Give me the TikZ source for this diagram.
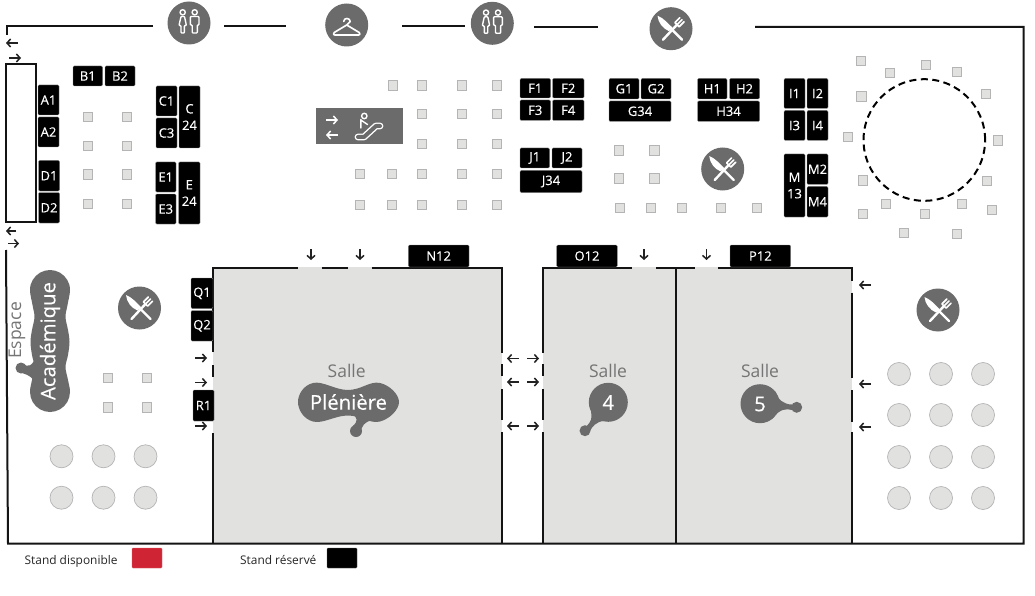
\documentclass[tikz,border=0pt]{standalone}
\usepackage{fontspec}
\setmainfont{Open Sans}
\newfontfamily\heavyish[FakeBold=0.25]{Open Sans}
\usetikzlibrary{arrows.meta}
\definecolor{iconcol}{HTML}{6B6B6B}
\definecolor{roomcol}{HTML}{E1E1E0}
\definecolor{seatedge}{HTML}{B4B4B4}
\definecolor{greytext}{HTML}{757575}
\definecolor{arrowcol}{HTML}{222222}
\definecolor{redstand}{HTML}{CF2433}
\tikzset{
  wall/.style={line width=2pt,draw=black!92,line cap=butt,line join=miter},
  standbox/.style={fill=black,draw=black!45,line width=.3pt,rounded corners=1.2pt,text=white,inner sep=0pt,align=center,
    font=\heavyish\fontsize{13}{16.5}\selectfont},
  seat/.style={rectangle,fill=roomcol,draw=seatedge,line width=.7pt,minimum size=9.6pt,inner sep=0pt},
  seatlarge/.style={circle,fill=roomcol,draw=seatedge,line width=.7pt,minimum size=23pt,inner sep=0pt},
  iconcircle/.style={circle,fill=iconcol,minimum size=43pt,inner sep=0pt},
  doorarrow/.style={draw=arrowcol,line width=1.5pt,-{Straight Barb[length=3.6pt,width=8pt,line width=1.5pt]}},
  whitearrow/.style={draw=white,line width=1.5pt,-{Straight Barb[length=3.6pt,width=8pt,line width=1.5pt]}},
  iconline/.style={draw=white,line width=1.4pt,line join=round,line cap=round},
  salletext/.style={text=greytext,inner sep=0pt,font=\fontsize{17.5}{20}\selectfont},
  blobtext/.style={text=white,inner sep=0pt,font=\heavyish\fontsize{20.3}{24}\selectfont},
  legendtext/.style={inner sep=0pt,anchor=base west,text=black!85,font=\fontsize{11.9}{14}\selectfont},
  foodicon/.pic={
    \fill[white] (-13.5,-13) .. controls (-7,-10.5) and (-3,-5) .. (1.5,-1) -- (-2,2.5) .. controls (-8,0) and (-13,-6) .. cycle;
    \draw[white,line width=2.4pt,line cap=round] (0,0) -- (11,11);
    \draw[white,line width=2.4pt,line cap=round] (-8,11) -- (6,-4);
    \draw[white,line width=1.7pt,line cap=round] (3.9,-6.1) -- (8.1,-1.9)
      (3.9,-6.1) -- (8.85,-11.05) (6,-4) -- (10.95,-8.95) (8.1,-1.9) -- (13.05,-6.85);
  },
  toileticon/.pic={
    \draw[iconline] (-6.3,-10.7) circle (2.6) (5.7,-10.7) circle (2.6);
    \draw[iconline,rounded corners=.8pt] (-8,-6.5) -- (-4.5,-6.5) -- (-2.6,2.5) -- (-4.6,2.5) -- (-4.6,10) -- (-8,10) -- (-8,2.5) -- (-10,2.5) -- cycle;
    \draw[iconline,rounded corners=.8pt] (1.3,-6.5) -- (10,-6.5) -- (10,2) -- (8.3,2) -- (8.3,10) -- (3.2,10) -- (3.2,2) -- (1.3,2) -- cycle;
  },
  hangericon/.pic={
    \draw[iconline,line width=1.6pt] (-3,-3.5) .. controls (-3,-7.5) and (3.5,-7.5) .. (3.5,-3.5) .. controls (3.5,-1.5) and (0,-2) .. (0,0)
      -- (12.5,7.5) .. controls (14,9) and (13,10) .. (12,10) -- (-12,10) .. controls (-13,10) and (-14,9) .. (-12.5,7.5) -- (0,0);
  },
}
\newcommand{\standat}[6]{%
  \pgfmathsetmacro{\mywd}{#4-#2}\pgfmathsetmacro{\myht}{#5-#3}%
  \node[standbox,minimum width=\mywd pt,minimum height=\myht pt] (#1) at ({(#2+#4)/2},{(#3+#5)/2}) {#6};}
\begin{document}
\begin{tikzpicture}[x=1pt,y=-1pt]
\useasboundingbox (0,0) rectangle (1035,596);
\fill[white] (0,0) rectangle (1035,596);
% rooms
\fill[roomcol] (213,267) rectangle (502,543);
\fill[roomcol] (543,267) rectangle (852,543);
% walls
\draw[wall] (153,26.5) -- (6.5,26.5) -- (6.5,35);
\draw[wall] (224,26.5) -- (286,26.5) (402,26.5) -- (465,26.5) (534,27) -- (598,27);
\draw[wall] (755,27) -- (1023.5,27) -- (1023.5,543.5) -- (8,543.5) -- (6,250);
\draw[wall] (6,64) rectangle (35.5,222);
\draw[wall] (213,352) -- (213,267.5) -- (298.3,267.5) (321.7,267.5) -- (348.3,267.5)
  (371.7,267.5) -- (502,267.5) -- (502,352.7) (502,364) -- (502,376) (502,389) -- (502,420) (502,432) -- (502,543.5)
  (213,365) -- (213,377) (213,433) -- (213,543.5);
\draw[wall] (543,352.7) -- (543,267.5) -- (632.3,267.5) (656,267.5) -- (695,267.5)
  (718.3,267.5) -- (852,267.5) -- (852,280.7) (852,292.7) -- (852,378) (852,390) -- (852,421.7) (852,432) -- (852,543.5)
  (543,364) -- (543,376) (543,389) -- (543,420) (543,432) -- (543,543.5)
  (676,267.5) -- (676,543.5);
% dashed circle
\node[circle,draw=black,line width=2pt,dash pattern=on 7pt off 4.5pt,minimum size=121.6pt,inner sep=0pt] (ring) at (924.3,140) {};
% stands
\standat{B1}{73}{66}{102.5}{86}{B1}
\standat{B2}{105}{66}{135}{86}{B2}
\standat{A1}{38}{85}{59}{115}{A1}
\standat{A2}{38}{117}{59}{147}{A2}
\standat{D1}{38.5}{160.5}{59.5}{191}{D1}
\standat{D2}{38.5}{192.5}{59.5}{223}{D2}
\standat{C1}{156}{86}{177}{116}{C1}
\standat{C3}{156}{118}{177}{148}{C3}
\standat{C24}{179}{86}{200}{148}{C\\24}
\standat{E1}{155.5}{162}{176}{192}{E1}
\standat{E3}{155.5}{194}{176}{224}{E3}
\standat{E24}{178.5}{162}{200}{224}{E\\24}
\standat{F1}{520}{78.5}{550.5}{98}{F1}
\standat{F2}{552.5}{78.5}{584}{98}{F2}
\standat{F3}{520}{100}{550.5}{120.5}{F3}
\standat{F4}{552.5}{100}{584}{120.5}{F4}
\standat{G1}{609}{78.5}{639}{99}{G1}
\standat{G2}{641}{78.5}{671}{99}{G2}
\standat{G34}{609}{101}{671}{121.5}{G34}
\standat{J1}{520}{148}{549.5}{168}{J1}
\standat{J2}{552}{148}{582}{168}{J2}
\standat{J34}{520}{170.5}{582}{192.5}{J34}
\standat{H1}{697.5}{78.5}{727}{99}{H1}
\standat{H2}{729.5}{78.5}{759.5}{99}{H2}
\standat{H34}{697.5}{101}{759.5}{121.5}{H34}
\standat{I1}{784}{78.5}{805}{108.5}{I1}
\standat{I2}{807}{78.5}{828}{108.5}{I2}
\standat{I3}{784}{110.5}{805}{140.5}{I3}
\standat{I4}{807}{110.5}{828}{140.5}{I4}
\standat{M13}{784}{154}{805}{217}{M\\13}
\standat{M2}{807}{154}{828}{184.5}{M2}
\standat{M4}{807}{186.5}{828}{217}{M4}
\standat{N12}{408.3}{245}{469}{267}{N12}
\standat{O12}{556.7}{245}{617.3}{267}{O12}
\standat{P12}{730}{245}{790.7}{267}{P12}
\standat{Q1}{191}{278}{213}{308.5}{Q1}
\standat{Q2}{191}{310.5}{213}{341}{Q2}
\standat{R1}{193}{390}{214}{421}{R1}
% square seats
\foreach \x in {88,127}\foreach \y in {117,146,174.5,204}{\node[seat] (sqa\x\y) at (\x,\y) {};}
\foreach \x/\y [count=\i] in {393/85.3,422/85.3,462/85.3,497/85.3,422/114,462/114,497/114,422/144,462/144,497/144,
  360/173.7,392/173.7,422/173.7,462/173.7,497/173.7,360/204.7,392/204.7,422/204.7,462/204.7,497/204.7,
  619/150.3,654.3/150.3,619/178.3,654.3/178.3,620/208,651/208,682/208,721/207.7,756.7/207.7,
  108/377.7,147/377.7,108/407.3,147/407.3,
  861/61,890/72.7,926/64.7,956.7/71.7,986/94,861.3/96.3,847.7/137,997.7/140.3,987/180.7,862.7/180.3,886/203.7,961.7/203.7,991.7/209.7,862.7/213.7,925/213.7,903.7/232.7,956.7/233.7}
  {\node[seat] (sqb\i) at (\x,\y) {};}
% round seats
\foreach \x/\y [count=\i] in {61.5/456.3,103.5/456.3,145.5/456.3,61.5/497.7,103.5/497.7,145.5/497.7,
  899/374,941/374,983/374,899/415,941/415,983/415,899/457,941/457,983/457,899/498,941/498,983/498}
  {\node[seatlarge] (rnd\i) at (\x,\y) {};}
% icons
\node[iconcircle] (wc1) at (189,23) {}; \pic at (wc1) {toileticon};
\node[iconcircle] (hanger) at (346.7,25) {}; \pic at (hanger) {hangericon};
\node[iconcircle] (wc2) at (492.3,23.3) {}; \pic at (wc2) {toileticon};
\node[iconcircle] (food1) at (671,28.7) {}; \pic at (food1) {foodicon};
\node[iconcircle] (food2) at (722.7,169) {}; \pic at (food2) {foodicon};
\node[iconcircle] (food3) at (139.5,308) {}; \pic at (food3) {foodicon};
\node[iconcircle] (food4) at (938,310) {}; \pic at (food4) {foodicon};
% escalator panel
\fill[iconcol] (315.5,108.5) rectangle (402.5,144);
\draw[whitearrow] (326,120) -- (338,120);
\draw[whitearrow] (338,135) -- (326,135);
\draw[iconline] (364.3,116) circle (2.7);
\draw[iconline] (360.8,119.5) -- (360.8,128) (360.8,120) -- (367.5,124.5);
\draw[white,line width=6.8pt,line cap=round,line join=round] (358,137) -- (364,137) -- (376,126) -- (380,126);
\draw[iconcol,line width=4pt,line cap=round,line join=round] (358,137) -- (364,137) -- (376,126) -- (380,126);
% door arrows
\draw[doorarrow] (18,43) -- (6,43);
\draw[doorarrow] (9,58) -- (21,58);
\draw[doorarrow] (16,231) -- (6,231);
\draw[doorarrow] (8,243.5) -- (19,243.5);
\foreach \y in {358,382.5,426} {\draw[doorarrow] (195,\y) -- (207,\y);}
\foreach \x in {311,360,644,706.5} {\draw[doorarrow] (\x,249) -- (\x,260);}
\foreach \y in {358.5,382,426} {\draw[doorarrow] (519,\y) -- (507,\y); \draw[doorarrow] (527,\y) -- (539,\y);}
\foreach \y in {285,384,427} {\draw[doorarrow] (871,\y) -- (859,\y);}
% Academique blob
\fill[iconcol] plot[smooth cycle,tension=.6] coordinates {(50,270) (60,272.7) (67.3,280) (70,290) (67.5,305) (65.5,317) (68,330) (69.5,342) (68,355) (65.5,367) (68,380) (70,392) (67.3,402) (60,409.3) (50,412)
  (40,409.3) (32.7,402) (30,392) (32,380) (34.5,367) (32,355) (30.5,342) (32,330) (34.5,317) (32.5,305) (30,290) (32.7,280) (40,272.7)};
\fill[iconcol] (21,368) circle (5.5);
\fill[iconcol] (23,363.5) .. controls (28,368) and (32,366) .. (36,357) -- (37,386) .. controls (34,378) and (29,375) .. (22,373) -- cycle;
\node[blobtext,rotate=90] (academique) at (50,341) {Académique};
\node[salletext,rotate=90] (espace) at (17,330.5) {Espace};
% Pleniere
\fill[iconcol] plot[smooth cycle,tension=.7] coordinates {(313,383) (348,390) (380,383) (399,402) (380,421.5) (348,415.5) (313,421.5) (298,402)};
\fill[iconcol] (356,431) circle (6);
\fill[iconcol] (352,414) .. controls (358,418) and (358,421) .. (353,426) -- (360,434) .. controls (361,427) and (364,421) .. (375,419.5) -- cycle;
\node[salletext] (salle3) at (346.7,371) {Salle};
\node[blobtext] (pleniere) at (348.5,402) {Plénière};
% Salle 4
\fill[iconcol] (608.3,402.3) circle (19.5);
\fill[iconcol] (585,430.7) circle (5.5);
\fill[iconcol] (591,411) .. controls (592,418) and (592,421) .. (586,426.5) -- (590,431) .. controls (592,427) and (596,421.5) .. (604,421) -- cycle;
\node[salletext] (salle4) at (608,371) {Salle};
\node[blobtext] (four) at (608.3,402.5) {4};
% Salle 5
\fill[iconcol] (760,403.7) circle (19.5);
\fill[iconcol] (796.7,407.3) circle (5.5);
\fill[iconcol] (775,391) .. controls (778,400) and (784,404.5) .. (792,404.5) -- (792,410) .. controls (786,408.5) and (780,408.5) .. (772,419) -- cycle;
\node[salletext] (salle5) at (760,371) {Salle};
\node[blobtext] (five) at (760,404) {5};
% legend
\node[legendtext] (legA) at (24.5,564.2) {Stand disponible};
\node[fill=redstand,draw=redstand!70,line width=.3pt,rounded corners=.8pt,minimum width=30pt,minimum height=20pt,inner sep=0pt] (legB) at (147,558) {};
\node[legendtext] (legC) at (240,564.2) {Stand réservé};
\node[fill=black,draw=black!60,line width=.3pt,rounded corners=.8pt,minimum width=30pt,minimum height=20pt,inner sep=0pt] (legD) at (342,558) {};
\end{tikzpicture}
\end{document}
